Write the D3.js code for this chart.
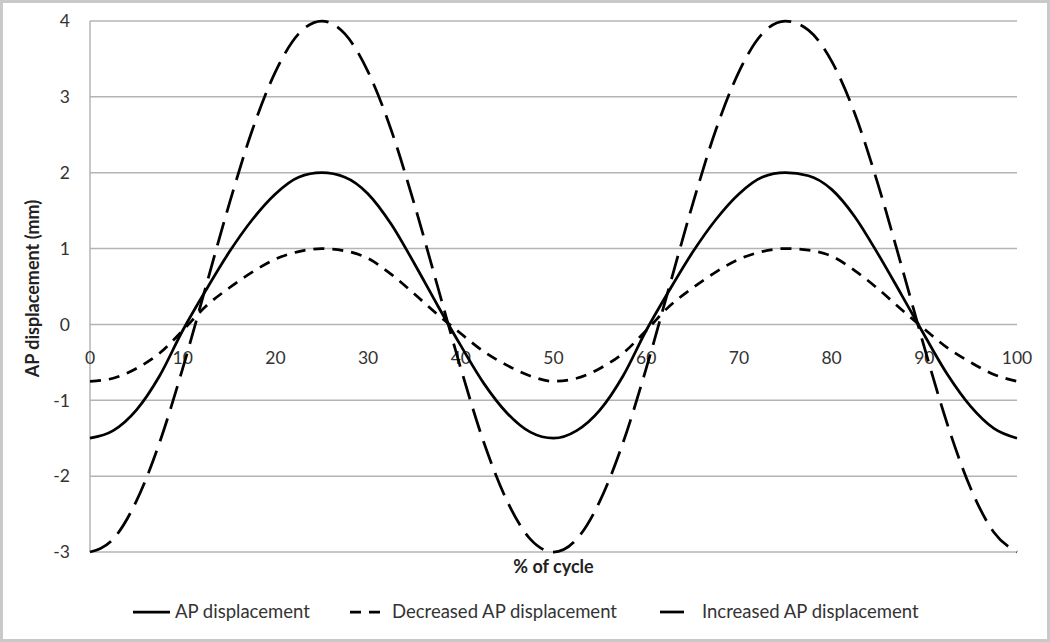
<!DOCTYPE html>
<html lang="en">
<head>
<meta charset="utf-8">
<title>AP displacement</title>
<style>
  body { margin: 0; background: #fff; }
  svg text { font-family: Lato, "Liberation Sans", sans-serif; fill: #333; }
</style>
</head>
<body>
<div id="chart"></div>
<script src="https://d3js.org/d3.v7.min.js"></script>
<script>
// % of cycle, one sample every 2.5 %
var cycle = [0, 2.5, 5, 7.5, 10, 12.5, 15, 17.5, 20, 22.5, 25, 27.5, 30, 32.5, 35, 37.5, 40, 42.5, 45, 47.5,
             50, 52.5, 55, 57.5, 60, 62.5, 65, 67.5, 70, 72.5, 75, 77.5, 80, 82.5, 85, 87.5, 90, 92.5, 95, 97.5, 100];

// values (mm)
var apDisp = [-1.50, -1.40, -1.13, -0.68, -0.08, 0.45, 0.95, 1.38, 1.72, 1.94, 2.00, 1.94, 1.72, 1.32, 0.80, 0.25, -0.28, -0.78, -1.17, -1.42,
              -1.50, -1.40, -1.13, -0.68, -0.08, 0.45, 0.95, 1.38, 1.72, 1.94, 2.00, 1.96, 1.78, 1.42, 0.93, 0.40, -0.14, -0.66, -1.08, -1.37, -1.50];
var decDisp = [-0.75, -0.71, -0.58, -0.38, -0.08, 0.24, 0.48, 0.69, 0.86, 0.96, 1.00, 0.97, 0.87, 0.66, 0.40, 0.13, -0.12, -0.36, -0.54, -0.68,
               -0.75, -0.71, -0.58, -0.38, -0.08, 0.24, 0.48, 0.69, 0.86, 0.96, 1.00, 0.98, 0.90, 0.71, 0.47, 0.20, -0.06, -0.31, -0.50, -0.66, -0.75];
var incDisp = [-3.00, -2.83, -2.33, -1.56, -0.58, 0.50, 1.58, 2.56, 3.33, 3.83, 4.00, 3.83, 3.33, 2.56, 1.58, 0.50, -0.58, -1.56, -2.33, -2.83,
               -3.00, -2.83, -2.33, -1.56, -0.58, 0.50, 1.58, 2.56, 3.33, 3.83, 4.00, 3.88, 3.47, 2.78, 1.85, 0.79, -0.30, -1.32, -2.16, -2.74, -3.00];

var seriesNames = ["AP displacement", "Decreased AP displacement", "Increased AP displacement"];
var xTicks = [0, 10, 20, 30, 40, 50, 60, 70, 80, 90, 100];
var yTicks = [-3, -2, -1, 0, 1, 2, 3, 4];

var width = 1050, height = 642;
var plotLeft = 90, plotRight = 1017, plotTop = 21, plotBottom = 552;

var svg = d3.select("#chart").append("svg")
    .attr("width", width)
    .attr("height", height);

// outer frame
svg.append("rect")
    .attr("x", 1.5).attr("y", 1.5)
    .attr("width", width - 3).attr("height", height - 3)
    .attr("fill", "#fff")
    .attr("stroke", "#c9c9c9")
    .attr("stroke-width", 3);

var x = d3.scaleLinear().domain([0, 100]).range([plotLeft, plotRight]);
var y = d3.scaleLinear().domain([-3, 4]).range([plotBottom, plotTop]);

// gridlines
svg.append("g")
  .selectAll("line")
  .data(yTicks)
  .enter().append("line")
    .attr("x1", plotLeft).attr("x2", plotRight)
    .attr("y1", function(d) { return y(d); })
    .attr("y2", function(d) { return y(d); })
    .attr("stroke", "#b4b4b4")
    .attr("stroke-width", 1.5);

// left axis line
svg.append("line")
    .attr("x1", plotLeft).attr("x2", plotLeft)
    .attr("y1", plotTop).attr("y2", plotBottom)
    .attr("stroke", "#b4b4b4")
    .attr("stroke-width", 1.5);

// y tick labels
svg.append("g")
  .selectAll("text")
  .data(yTicks)
  .enter().append("text")
    .attr("x", 70)
    .attr("y", function(d) { return y(d); })
    .attr("dy", "0.36em")
    .attr("text-anchor", "end")
    .style("font-size", "17.5px")
    .text(function(d) { return d; });

// x tick labels sit under the zero line
svg.append("g")
  .selectAll("text")
  .data(xTicks)
  .enter().append("text")
    .attr("x", function(d) { return x(d); })
    .attr("y", y(0) + 40)
    .attr("text-anchor", "middle")
    .style("font-size", "17.5px")
    .text(function(d) { return d; });

// axis titles
svg.append("text")
    .attr("x", (plotLeft + plotRight) / 2)
    .attr("y", 573)
    .attr("text-anchor", "middle")
    .style("font-size", "18px")
    .style("font-weight", "bold")
    .style("fill", "#222")
    .text("% of cycle");

svg.append("text")
    .attr("transform", "translate(39," + ((plotTop + plotBottom) / 2 + 2) + ") rotate(-90)")
    .attr("text-anchor", "middle")
    .style("font-size", "18px")
    .style("font-weight", "bold")
    .style("fill", "#222")
    .text("AP displacement (mm)");

// lines
var styles = [
  { values: apDisp,  dash: null,    legendLen: 37 },
  { values: decDisp, dash: "11,8",  legendLen: 37 },
  { values: incDisp, dash: "24,10", legendLen: 34 }
];

var line = d3.line()
    .x(function(d) { return x(d[0]); })
    .y(function(d) { return y(d[1]); })
    .curve(d3.curveMonotoneX);

styles.forEach(function(s) {
  svg.append("path")
      .datum(cycle.map(function(c, i) { return [c, s.values[i]]; }))
      .attr("d", line)
      .attr("fill", "none")
      .attr("stroke", "#000")
      .attr("stroke-width", 2.75)
      .attr("stroke-dasharray", s.dash);
});

// legend
var legendX = [133, 350, 660];
var legend = svg.append("g");
seriesNames.forEach(function(name, i) {
  legend.append("line")
      .attr("x1", legendX[i]).attr("x2", legendX[i] + styles[i].legendLen)
      .attr("y1", 612).attr("y2", 612)
      .attr("stroke", "#000")
      .attr("stroke-width", 2.75)
      .attr("stroke-dasharray", styles[i].dash);
  legend.append("text")
      .attr("x", legendX[i] + 42)
      .attr("y", 618)
      .style("font-size", "18.5px")
      .text(name);
});
</script>
</body>
</html>
